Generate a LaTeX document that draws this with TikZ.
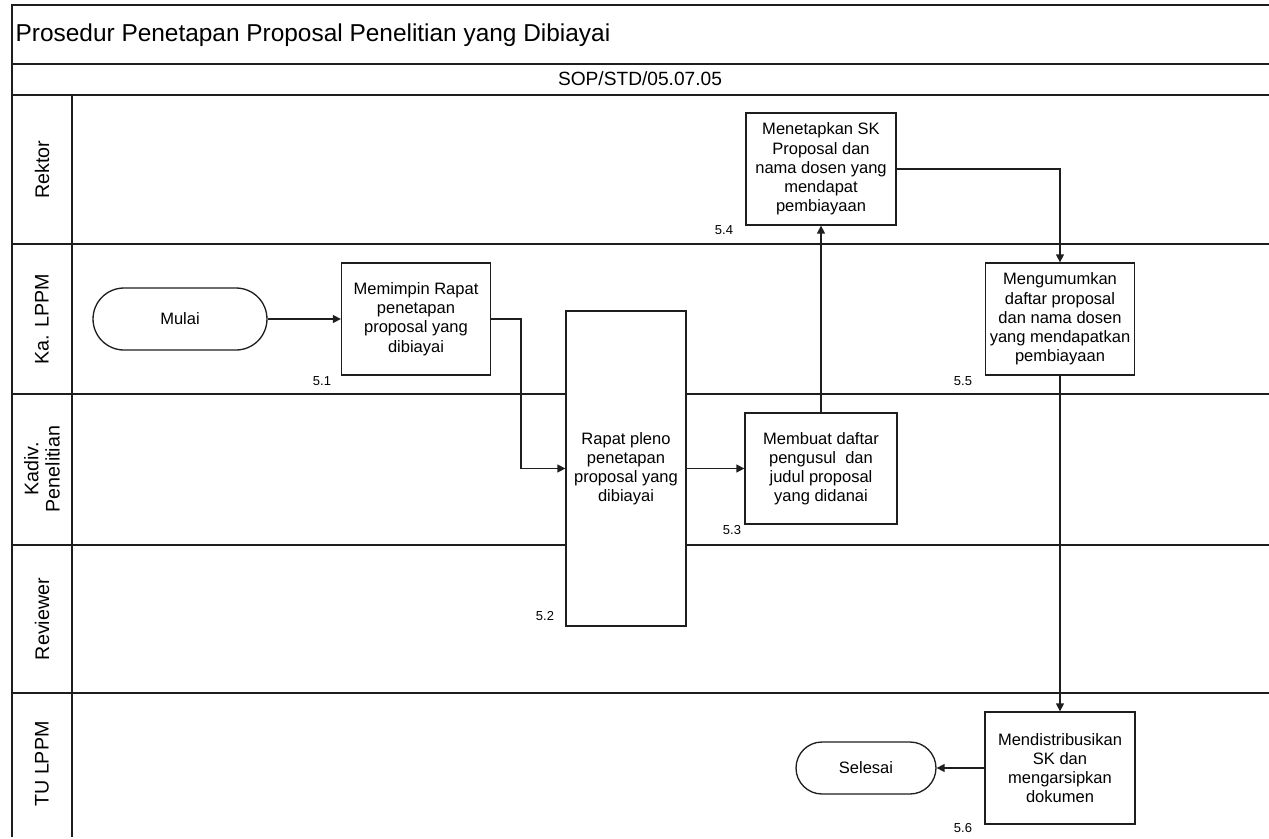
\documentclass[tikz,border=0pt]{standalone}
\usepackage{fontspec}
\setmainfont{Liberation Sans}
\usepackage{tikz}
\usetikzlibrary{arrows.meta,positioning}
\definecolor{sopline}{RGB}{30,30,30}

\begin{document}
\begin{tikzpicture}[x=0.02cm,y=-0.02cm,
    line width=0.75pt,
    arr/.style={draw=sopline,-{Triangle[length=4.5pt,width=4.5pt]}},
    stepbox/.style={draw=sopline,fill=white,align=center,font=\fontsize{9.4}{10.9}\selectfont,
      minimum width=3cm,minimum height=2.24cm,inner sep=1pt},
    term/.style={draw=sopline,fill=white,rounded corners=0.6cm,font=\fontsize{9.4}{11}\selectfont,
      minimum height=1.2cm},
    lane/.style={rotate=90,align=center,font=\fontsize{11.2}{12}\selectfont},
    num/.style={font=\fontsize{7.4}{8}\selectfont,inner sep=0pt}]
  \useasboundingbox (0,0) rectangle (1269,839);
  % Frame and swimlanes
  \draw[sopline] (12,837) -- (12,5) -- (1269,5);
  \draw[sopline] (12,64) -- (1269,64);
  \foreach \y in {95,244,394,545,693}
    \draw[sopline] (12,\y) -- (1269,\y);
  \draw[sopline] (72,95) -- (72,837);
  \node[anchor=west,inner sep=0pt,font=\fontsize{13.9}{15}\selectfont] (title) at (15,35)
    {Prosedur Penetapan Proposal Penelitian yang Dibiayai};
  \node[font=\fontsize{10.9}{12}\selectfont] (code) at (640,79) {SOP/STD/05.07.05};
  \node[lane] (rektor) at (42,170) {Rektor};
  \node[lane] (kalppm) at (42,319) {Ka. LPPM};
  \node[lane] (kadiv) at (42,469) {Kadiv.\\Penelitian};
  \node[lane] (reviewer) at (42,619) {Reviewer};
  \node[lane] (tulppm) at (42,764) {TU LPPM};

  % Steps
  \node[term,minimum width=3.48cm,rounded corners=0.62cm,minimum height=1.24cm] (mulai) at (180,319) {Mulai};
  \node[stepbox,minimum width=2.98cm] (n51) at (416,319) {Memimpin Rapat\\penetapan\\proposal yang\\dibiayai};
  \node[stepbox,minimum width=2.4cm,minimum height=6.3cm] (n52) at (626,468.5) {Rapat pleno\\penetapan\\proposal yang\\dibiayai};
  \node[stepbox,minimum width=3.04cm,minimum height=2.22cm] (n53) at (821,468.5) {Membuat daftar\\pengusul \ dan\\judul proposal\\yang didanai};
  \node[stepbox] (n54) at (821,169) {Menetapkan SK\\Proposal dan\\nama dosen yang\\mendapat\\pembiayaan};
  \node[stepbox,minimum width=2.98cm] (n55) at (1060,319) {Mengumumkan\\daftar proposal\\dan nama dosen\\yang mendapatkan\\pembiayaan};
  \node[stepbox] (n56) at (1060,768) {Mendistribusikan\\SK dan\\mengarsipkan\\dokumen};
  \node[term,minimum width=2.8cm,rounded corners=0.52cm,minimum height=1.04cm] (selesai) at (866,768) {Selesai};

  \node[num] (l51) at (322,381) {5.1};
  \node[num] (l52) at (545,616) {5.2};
  \node[num] (l53) at (732,530) {5.3};
  \node[num] (l54) at (724,230) {5.4};
  \node[num] (l55) at (963,381) {5.5};
  \node[num] (l56) at (963,828) {5.6};

  % Flow
  \draw[arr] (mulai) -- (n51);
  \draw[arr] (n51.east) -- ++(30,0) |- (n52.west);
  \draw[arr] (n52.east |- n53.west) -- (n53.west);
  \draw[arr] (n53) -- (n54);
  \draw[arr] (n54.east) -| (n55.north);
  \draw[arr] (n55) -- (n56);
  \draw[arr] (n56) -- (selesai);
\end{tikzpicture}
\end{document}
